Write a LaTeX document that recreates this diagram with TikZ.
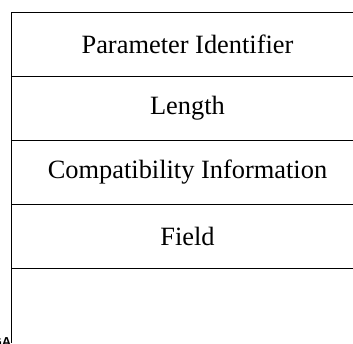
\documentclass[tikz,border=0pt]{standalone}
\usepackage{fontspec}
\setmainfont{Liberation Serif}
\newfontfamily\tagfont{Liberation Sans}
\usetikzlibrary{positioning}

\begin{document}
\begin{tikzpicture}[x=1pt,y=1pt,
      font=\fontsize{26.4}{31}\selectfont,node distance=0pt,
      fieldrow/.style={minimum width=353pt,minimum height=63.9pt,
                       inner sep=0pt,outer sep=0pt},
      rule/.style={line width=1pt}]
    \useasboundingbox (0,0) rectangle (353,-343);
    \node[fieldrow,anchor=north west] (pid) at (11,-12.5) {Parameter Identifier};
    \node[fieldrow,below=of pid] (len) {Length};
    \node[fieldrow,below=of len] (compat) {Compatibility Information};
    \node[fieldrow,below=of compat] (field) {Field};
    \coordinate (foot) at (11,-343);
    \draw[rule] (pid.north east) -- (pid.north west) -- (foot);
    \foreach \r in {pid,len,compat,field}
      \draw[rule] (\r.south west) -- (\r.south east);
    \node[anchor=north east,inner sep=0pt,font=\tagfont\bfseries\fontsize{13}{15}\selectfont]
      (tag) at (11.5,-337.5) {GA};
  \end{tikzpicture}
\end{document}
